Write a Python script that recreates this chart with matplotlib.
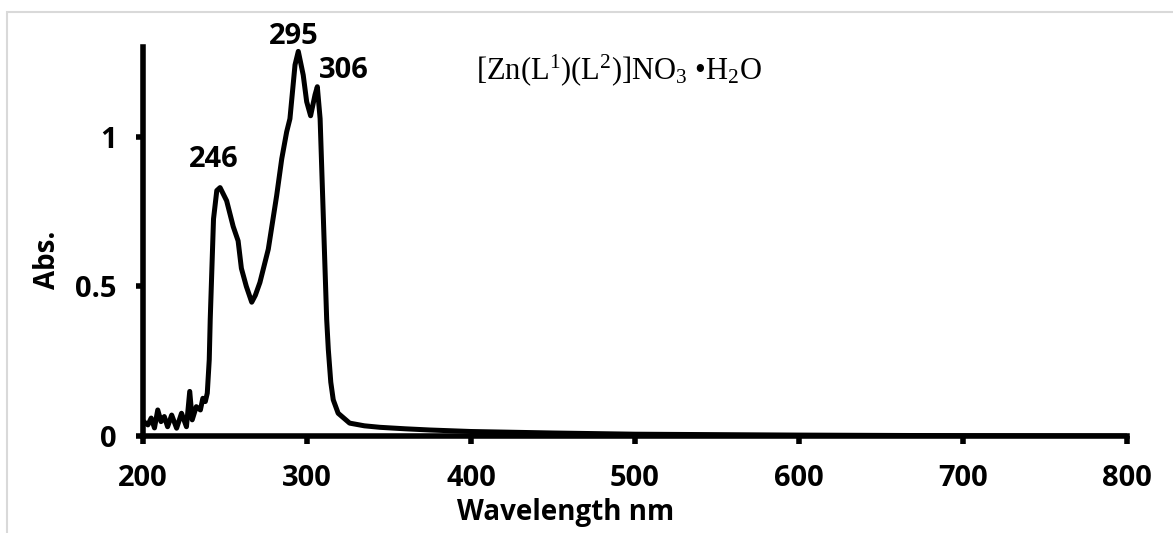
import matplotlib
matplotlib.use("Agg")
import matplotlib.pyplot as plt
from matplotlib.patches import Rectangle

# UV-Vis spectrum
wavelength = [200, 203, 205, 207, 209, 211, 213, 215, 217.5, 220.5, 223.5, 226.5, 228.5, 230,
              232.5, 235, 236.5, 238, 239.2, 240.4, 241, 243, 245, 247, 251, 255, 258, 260,
              263, 266.3, 268.5, 271.3, 276.4, 281.5, 284.6, 287.6, 289.6, 292.7, 294.7,
              297.7, 299.8, 302.2, 304.9, 306.3, 308, 310, 312, 313, 314.5, 316, 319, 326,
              335, 344.5, 360, 375, 400, 450, 500, 600, 700, 800]
absorbance = [0.05, 0.037, 0.06, 0.027, 0.087, 0.048, 0.065, 0.031, 0.07, 0.026, 0.076, 0.031,
              0.149, 0.054, 0.098, 0.087, 0.126, 0.115, 0.143, 0.255, 0.39, 0.725, 0.82, 0.83,
              0.786, 0.70, 0.652, 0.56, 0.50, 0.447, 0.47, 0.513, 0.624, 0.803, 0.926, 1.016,
              1.06, 1.24, 1.285, 1.206, 1.117, 1.07, 1.14, 1.167, 1.06, 0.725, 0.39, 0.289,
              0.18, 0.121, 0.076, 0.043, 0.034, 0.029, 0.024, 0.02, 0.015, 0.01, 0.006, 0.003,
              0.001, 0.0]

peak_labels = ["246", "295", "306"]
peak_label_pos = [(243, 0.923), (291.8, 1.336), (322.3, 1.22)]

x_ticks = [200, 300, 400, 500, 600, 700, 800]
y_ticks = [0, 0.5, 1]
y_tick_labels = ["0", "0.5", "1"]

title = r"[Zn(L$^{1}$)(L$^{2}$)]NO$_{3}$ •H$_{2}$O"

plt.rcParams['font.family'] = ['Open Sans', 'DejaVu Sans']
plt.rcParams['mathtext.fontset'] = 'custom'
plt.rcParams['mathtext.rm'] = 'Liberation Serif'
plt.rcParams['mathtext.it'] = 'Liberation Serif:italic'
plt.rcParams['mathtext.bf'] = 'Liberation Serif:bold'

fig = plt.figure(figsize=(11.73, 5.33), dpi=100)
ax = fig.add_axes([0.1219, 0.182, 0.8389, 0.730])

# light grey chart-area border
fig.patches.append(Rectangle((0.006, -0.1), 1.1, 1.0775, transform=fig.transFigure,
                             fill=False, edgecolor='#d9d9d9', linewidth=1.5))

ax.plot(wavelength, absorbance, color='black', linewidth=3.6,
        solid_joinstyle='round', solid_capstyle='round')

ax.set_xlim(200, 800)
ax.set_ylim(0, 1.3)
ax.set_xticks(x_ticks)
ax.set_yticks(y_ticks)
ax.set_yticklabels(y_tick_labels)

for side in ['top', 'right']:
    ax.spines[side].set_visible(False)
for side in ['left', 'bottom']:
    ax.spines[side].set_linewidth(4)
    ax.spines[side].set_capstyle('projecting')

ax.tick_params(axis='x', direction='out', length=6, width=4, pad=14,
               labelsize=21)
ax.tick_params(axis='y', direction='out', length=5, width=4, pad=14,
               labelsize=21)
for lab in ax.get_xticklabels() + ax.get_yticklabels():
    lab.set_fontweight('bold')

ax.set_xlabel('Wavelength nm', fontsize=20, fontweight='bold')
ax.xaxis.set_label_coords(0.429, -0.16)
ax.set_ylabel('Abs.', fontsize=20, fontweight='bold')
ax.yaxis.set_label_coords(-0.0823, 0.452)

for lab, (px, py) in zip(peak_labels, peak_label_pos):
    ax.text(px, py, lab, fontsize=21, fontweight='bold', ha='center', va='center',
            clip_on=False)

ax.text(403, 1.222, title, fontsize=22, ha='left', va='center',
        family='Liberation Serif')

fig.savefig('out.png', dpi=100)
